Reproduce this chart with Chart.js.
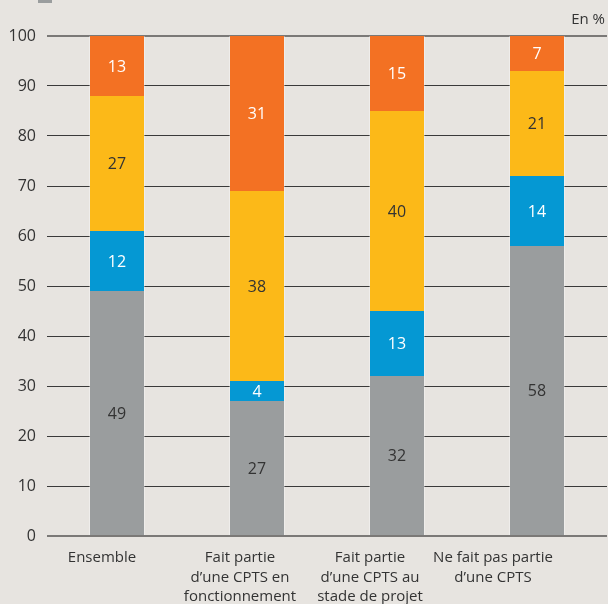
<!DOCTYPE html>
<html>
<head>
<meta charset="utf-8">
<script src="https://cdn.jsdelivr.net/npm/chart.js@4/dist/chart.umd.min.js"></script>
<style>
  html, body { margin: 0; padding: 0; background: #e7e4e0; }
  #wrap { width: 608px; height: 604px; position: relative; }
</style>
</head>
<body>
<div id="wrap"><canvas id="chart"></canvas></div>
<script>
// Categories (x axis)
const categories = [
  ['Ensemble'],
  ['Fait partie', 'd\u2019une CPTS en', 'fonctionnement'],
  ['Fait partie', 'd\u2019une CPTS au', 'stade de projet'],
  ['Ne fait pas partie', 'd\u2019une CPTS']
];

// Series values (bottom to top)
const greyValues = [49, 27, 32, 58];
const blueValues = [12, 4, 13, 14];
const yellowValues = [27, 38, 40, 21];
const orangeValues = [13, 31, 15, 7];

// Y axis ticks
const yTicks = [0, 10, 20, 30, 40, 50, 60, 70, 80, 90, 100];

const FONT = '"Open Sans", Lato, sans-serif';

// value labels in the middle of each segment
const segmentLabels = {
  id: 'segmentLabels',
  afterDatasetsDraw(chart) {
    const ctx = chart.ctx;
    ctx.save();
    ctx.font = '16px ' + FONT;
    ctx.textAlign = 'center';
    ctx.textBaseline = 'middle';
    chart.data.datasets.forEach((ds, i) => {
      const meta = chart.getDatasetMeta(i);
      meta.data.forEach((bar, j) => {
        const top = Math.max(bar.y, chart.chartArea.top);
        const y = (top + bar.base) / 2;
        ctx.fillStyle = ds.labelColor;
        ctx.fillText(ds.data[j], bar.x, y + 1);
      });
    });
    ctx.restore();
  }
};

// category labels sit a little left of their bars in the original
const labelShift = [-15, -17, -27, -44];
const categoryLabels = {
  id: 'categoryLabels',
  afterDraw(chart) {
    const ctx = chart.ctx;
    const xs = chart.scales.x;
    ctx.save();
    ctx.font = '15px ' + FONT;
    ctx.fillStyle = '#333';
    ctx.textAlign = 'center';
    ctx.textBaseline = 'alphabetic';
    categories.forEach((lines, i) => {
      const x = xs.getPixelForValue(i) + labelShift[i];
      lines.forEach((line, k) => {
        ctx.fillText(line, x, chart.chartArea.bottom + 26 + k * 19.5);
      });
    });
    // "En %" note and the top of the legend cut by the frame
    ctx.textAlign = 'right';
    ctx.fillText('En %', 605, 24);
    ctx.fillStyle = '#9a9d9e';
    ctx.fillRect(38, -8, 14, 11);
    ctx.restore();
  }
};

const config = {
  type: 'bar',
  data: {
    labels: categories,
    datasets: [
      { data: greyValues, backgroundColor: '#9a9d9e', labelColor: '#333333' },
      { data: blueValues, backgroundColor: '#0598d3', labelColor: '#ffffff' },
      { data: yellowValues, backgroundColor: '#fcb918', labelColor: '#333333' },
      { data: orangeValues, backgroundColor: '#f37123', labelColor: '#ffffff' }
    ]
  },
  options: {
    responsive: true,
    maintainAspectRatio: false,
    animation: false,
    layout: { padding: { top: 36, right: 1, left: 0, bottom: 0 } },
    datasets: {
      bar: {
        barPercentage: 0.4,
        categoryPercentage: 1,
        borderWidth: { left: 1, right: 1 },
        borderColor: 'rgba(255,255,255,0.35)',
        borderSkipped: false
      }
    },
    scales: {
      x: {
        stacked: true,
        grid: { display: false },
        border: { display: false },
        ticks: { display: false },
        afterFit(scale) { scale.height = 68; }
      },
      y: {
        stacked: true,
        min: 0,
        max: 100,
        afterBuildTicks(scale) { scale.ticks = yTicks.map(v => ({ value: v })); },
        grid: {
          drawTicks: false,
          color: ctx => (ctx.tick && (ctx.tick.value === 0 || ctx.tick.value === 100)) ? '#7b7977' : '#3a3a3a',
          lineWidth: ctx => (ctx.tick && (ctx.tick.value === 0 || ctx.tick.value === 100)) ? 2 : 1
        },
        border: { display: false },
        ticks: {
          color: '#333',
          font: { family: FONT, size: 16 },
          padding: 11
        },
        afterFit(scale) { scale.width = 47; }
      }
    },
    plugins: {
      legend: { display: false },
      tooltip: { enabled: false }
    }
  },
  plugins: [segmentLabels, categoryLabels]
};

const mainChart = new Chart(document.getElementById('chart'), config);
</script>
</body>
</html>
